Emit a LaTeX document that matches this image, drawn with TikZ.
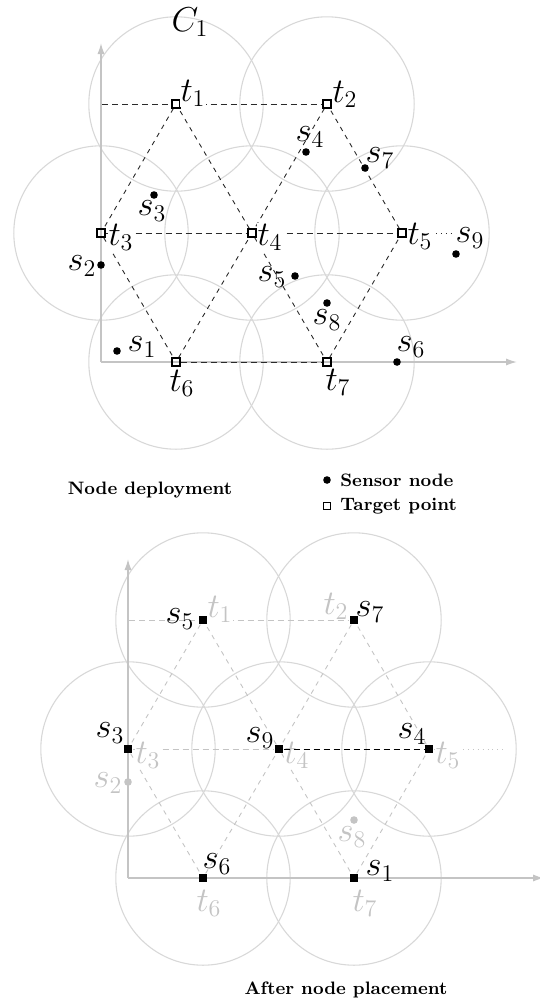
\documentclass[tikz,border=0pt]{standalone}
\usetikzlibrary{backgrounds,arrows.meta}
\definecolor{circ}{HTML}{D8D8D8}
\definecolor{axisc}{HTML}{C4C4C4}
\definecolor{lat}{HTML}{2A2A2A}
\definecolor{fade}{HTML}{C4C4C4}
\begin{document}
\begin{tikzpicture}[x=0.5pt,y=-0.5pt,
  tgt/.style={draw=black,rectangle,minimum size=4pt,inner sep=0pt,line width=0.55pt},
  sen/.style={circle,fill=black,minimum size=3.8pt,inner sep=0pt},
  fsen/.style={circle,fill=fade,minimum size=3.8pt,inner sep=0pt},
  placed/.style={rectangle,fill=black,minimum size=4.2pt,inner sep=0pt},
  lab/.style={font=\LARGE,inner sep=0.5pt},
  tlab/.style={lab,fill=white},
  ftlab/.style={lab,fill=white,text=fade},
  rangecirc/.style={draw=circ,line width=0.55pt},
  axisline/.style={draw=axisc,line width=0.8pt,-{Latex[length=5.5pt,width=3.6pt]}},
  hdash/.style={draw=lat,line width=0.45pt,dash pattern=on 3pt off 2pt},
  ddash/.style={draw=lat,line width=0.45pt,dash pattern=on 2.3pt off 2.4pt},
  fhdash/.style={draw=fade,line width=0.45pt,dash pattern=on 3pt off 2pt},
  fddash/.style={draw=fade,line width=0.45pt,dash pattern=on 2.3pt off 2.4pt},
  captxt/.style={font=\fontsize{9}{11}\selectfont\bfseries,inner sep=0pt}
]
\useasboundingbox (0,0) rectangle (540,1003);

% ================= Top: node deployment =================
\node[tgt] (t1) at (176,104) {};
\node[tgt] (t2) at (327,104) {};
\node[tgt] (t3) at (101,233) {};
\node[tgt] (t4) at (252,233) {};
\node[tgt] (t5) at (402,233) {};
\node[tgt] (t6) at (176,362) {};
\node[tgt] (t7) at (327,362) {};
\coordinate (o) at (101,362);
\coordinate (ytip) at (101,43);
\coordinate (xtip) at (517,362);
\coordinate (hl) at (102,104);
\coordinate (dotend) at (457,233);

\begin{pgfonlayer}{background}
  \foreach \n in {t1,t2,t3,t4,t5,t6,t7} \draw[rangecirc] (\n) circle[radius=43.6pt];
  \draw[axisline] (o) -- (ytip);
  \draw[axisline] (o) -- (xtip);
  \draw[hdash] (hl) -- (t1) -- (t2);
  \draw[hdash] (t3) -- (t4) -- (t5);
  \draw[hdash] (t6) -- (t7);
  \draw[lat,line width=0.45pt,dotted] (t5) -- (dotend);
  \draw[ddash] (t1) -- (t3) -- (t6) -- (t4) -- (t1);
  \draw[ddash] (t2) -- (t4) -- (t7) -- (t5) -- (t2);
\end{pgfonlayer}

\node[lab] (c1) at (190,22) {$C_1$};
\node[tlab] (lt1) at (193,93) {$t_1$};
\node[tlab] (lt2) at (345,94) {$t_2$};
\node[tlab] (lt3) at (121,237) {$t_3$};
\node[tlab] (lt4) at (270,237) {$t_4$};
\node[tlab] (lt5) at (420,236) {$t_5$};
\node[tlab] (lt6) at (182,383) {$t_6$};
\node[tlab] (lt7) at (338,382) {$t_7$};

\node[sen] (s1) at (117,351) {};
\node[sen] (s2) at (101,265) {};
\node[sen] (s3) at (154,195) {};
\node[sen] (s4) at (306,152) {};
\node[sen] (s5) at (295,276) {};
\node[sen] (s6) at (397,362) {};
\node[sen] (s7) at (365,168) {};
\node[sen] (s8) at (327,303) {};
\node[sen] (s9) at (456,254) {};
\node[lab] (ls1) at (142,347) {$s_1$};
\node[lab] (ls2) at (82,266) {$s_2$};
\node[lab] (ls3) at (152,211) {$s_3$};
\node[lab] (ls4) at (310,137) {$s_4$};
\node[lab] (ls5) at (272,277) {$s_5$};
\node[lab] (ls6) at (411,347) {$s_6$};
\node[lab] (ls7) at (380,158) {$s_7$};
\node[lab] (ls8) at (327,320) {$s_8$};
\node[lab,fill=white] (ls9) at (470,238) {$s_9$};

% legend
\node[captxt] (cap1) at (150,490) {Node deployment};
\node[sen] (lgs) at (327,480) {};
\node[captxt,anchor=west] (lgst) at (340,480) {Sensor node};
\node[tgt,minimum size=3.6pt] (lgt) at (327,506) {};
\node[captxt,anchor=west] (lgtt) at (340,506) {Target point};

% ================= Bottom: after node placement =================
\begin{scope}[shift={(27,516)}]
\node[placed] (u1) at (176,104) {};
\node[placed] (u2) at (327,104) {};
\node[placed] (u3) at (101,233) {};
\node[placed] (u4) at (252,233) {};
\node[placed] (u5) at (402,233) {};
\node[placed] (u6) at (176,362) {};
\node[placed] (u7) at (327,362) {};
\coordinate (bo) at (101,362);
\coordinate (bytip) at (101,43);
\coordinate (bxtip) at (517,362);
\coordinate (bhl) at (102,104);
\coordinate (bdotend) at (476,233);

\begin{pgfonlayer}{background}
  \foreach \n in {u1,u2,u3,u4,u5,u6,u7} \draw[rangecirc] (\n) circle[radius=43.6pt];
  \draw[axisline] (bo) -- (bytip);
  \draw[axisline] (bo) -- (bxtip);
  \draw[fhdash] (bhl) -- (u1) -- (u2);
  \draw[fhdash] (u3) -- (u4);
  \draw[fhdash] (u6) -- (u7);
  \draw[draw=fade,line width=0.45pt,dotted] (u5) -- (bdotend);
  \draw[fddash] (u1) -- (u3) -- (u6) -- (u4) -- (u1);
  \draw[fddash] (u2) -- (u4) -- (u7) -- (u5) -- (u2);
\end{pgfonlayer}

\node[ftlab] (lu1) at (193,93) {$t_1$};
\node[ftlab] (lu2) at (309,90) {$t_2$};
\node[ftlab] (lu3) at (121,239) {$t_3$};
\node[ftlab] (lu4) at (270,239) {$t_4$};
\node[ftlab] (lu5) at (421,239) {$t_5$};
\node[ftlab] (lu6) at (182,387) {$t_6$};
\node[ftlab] (lu7) at (338,387) {$t_7$};
\draw[hdash,draw=black] (u4) -- (u5);

\node[fsen] (f2) at (101,266) {};
\node[fsen] (f8) at (327,304) {};
\node[lab,text=fade] (lf2) at (81,267) {$s_2$};
\node[lab,text=fade] (lf8) at (325,321) {$s_8$};

\node[lab] (lp5) at (153,103) {$s_5$};
\node[lab] (lp7) at (343,96) {$s_7$};
\node[lab] (lp3) at (83,217) {$s_3$};
\node[lab] (lp9) at (233,222) {$s_9$};
\node[lab] (lp4) at (385,218) {$s_4$};
\node[lab] (lp6) at (190,348) {$s_6$};
\node[lab] (lp1) at (353,355) {$s_1$};
\end{scope}

\node[captxt] (cap2) at (346,990) {After node placement};
\end{tikzpicture}
\end{document}
